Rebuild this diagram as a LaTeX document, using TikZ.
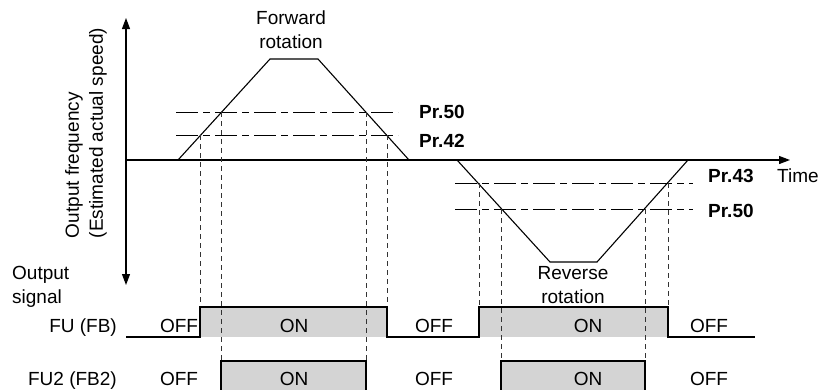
\documentclass[tikz,border=0pt]{standalone}
\usepackage{fontspec}
\setmainfont{Liberation Sans}
\usetikzlibrary{arrows.meta}
\definecolor{sigfill}{RGB}{212,212,212}

\begin{document}
\begin{tikzpicture}[x=1pt, y=-1pt,
          % Line styles
          curve/.style={line width=1.1pt},
          axisline/.style={line width=1.1pt},
          level/.style={line width=0.9pt, dash pattern=on 22pt off 5pt on 7pt off 5pt},
          guide/.style={line width=0.8pt, dash pattern=on 5pt off 4pt, draw=black!80},
          signal/.style={line width=1.1pt},
          onfill/.style={fill=sigfill},
          % Text styles
          lbl/.style={font=\fontsize{19}{24}\selectfont, inner sep=0pt, align=center},
          prlbl/.style={font=\fontsize{19}{24}\selectfont\bfseries, inner sep=0pt, anchor=base west},
          state/.style={font=\fontsize{19}{24}\selectfont, inner sep=0pt, anchor=base},
          % Arrow tip
          >={Triangle[length=11pt,width=8pt]}
        ]
          \useasboundingbox (0,0) rectangle (818,389);

          % ==========================================
          % 1. Axes
          % ==========================================
          \coordinate (ytop) at (126,18);
          \coordinate (ybot) at (126,285);
          \coordinate (origin) at (126,160);
          \coordinate (xend) at (790,160);
          \draw[axisline, <->] (ybot) -- (ytop);
          \draw[axisline, ->] (origin) -- (xend);

          \node[lbl, rotate=90, align=left] (ylabel) at (86,133)
            {Output frequency\\(Estimated actual speed)};
          \node[lbl, anchor=base west] (time) at (777,182) {Time};

          % ==========================================
          % 2. Frequency curves
          % ==========================================
          \coordinate (fwd_a) at (178,160);
          \coordinate (fwd_b) at (270,59);
          \coordinate (fwd_c) at (318,59);
          \coordinate (fwd_d) at (409,160);
          \coordinate (rev_a) at (457,160);
          \coordinate (rev_b) at (550,262);
          \coordinate (rev_c) at (597,262);
          \coordinate (rev_d) at (688,160);
          \draw[curve] (fwd_a) -- (fwd_b) -- (fwd_c) -- (fwd_d);
          \draw[curve] (rev_a) -- (rev_b) -- (rev_c) -- (rev_d);

          \node[lbl, anchor=north] (fwd_lbl) at (291,11) {Forward\\rotation};
          \node[lbl, anchor=north] (rev_lbl) at (573,266) {Reverse\\rotation};

          % Detection levels
          \draw[level] (176,112) coordinate (pr50a_l) -- (398,112) coordinate (pr50a_r);
          \draw[level] (176,135) coordinate (pr42_l) -- (398,135) coordinate (pr42_r);
          \draw[level] (455,183) coordinate (pr43_l) -- (693,183) coordinate (pr43_r);
          \draw[level] (455,209) coordinate (pr50b_l) -- (693,209) coordinate (pr50b_r);

          \node[prlbl] (pr50a) at (419,118) {Pr.50};
          \node[prlbl] (pr42) at (419,147) {Pr.42};
          \node[prlbl] (pr43) at (708,182) {Pr.43};
          \node[prlbl] (pr50b) at (708,217) {Pr.50};

          % ==========================================
          % 3. Output signals
          % ==========================================
          \node[lbl, anchor=north west, align=left] (outsig) at (12,266) {Output\\signal};
          \node[lbl, anchor=base east] (fu) at (117,332) {FU (FB)};
          \node[lbl, anchor=base east] (fu2) at (117,385) {FU2 (FB2)};

          % ON areas
          \fill[onfill] (200,307) rectangle (387,337);
          \fill[onfill] (479,307) rectangle (668,337);
          \fill[onfill] (221,361) rectangle (366,395);
          \fill[onfill] (501,361) rectangle (645,395);

          % Guides from level crossings
          \draw[guide] (200,135) -- (200,307);
          \draw[guide] (221,112) -- (221,361);
          \draw[guide] (366,112) -- (366,361);
          \draw[guide] (387,135) -- (387,307);
          \draw[guide] (479,183) -- (479,307);
          \draw[guide] (501,209) -- (501,361);
          \draw[guide] (645,209) -- (645,361);
          \draw[guide] (668,183) -- (668,307);

          % Signal traces
          \draw[signal] (126,337) -| (200,307) -| (387,337) -| (479,307) -| (668,337) -- (755,337);
          \draw[signal] (126,391) -| (221,361) -| (366,391) -| (501,361) -| (645,391) -- (755,391);

          \foreach \sx/\st [count=\i] in {179/OFF, 294/ON, 434/OFF, 588/ON, 709/OFF} {
            \node[state] (fu_st\i) at (\sx,332) {\st};
            \node[state] (fu2_st\i) at (\sx,385) {\st};
          }
        \end{tikzpicture}
\end{document}
